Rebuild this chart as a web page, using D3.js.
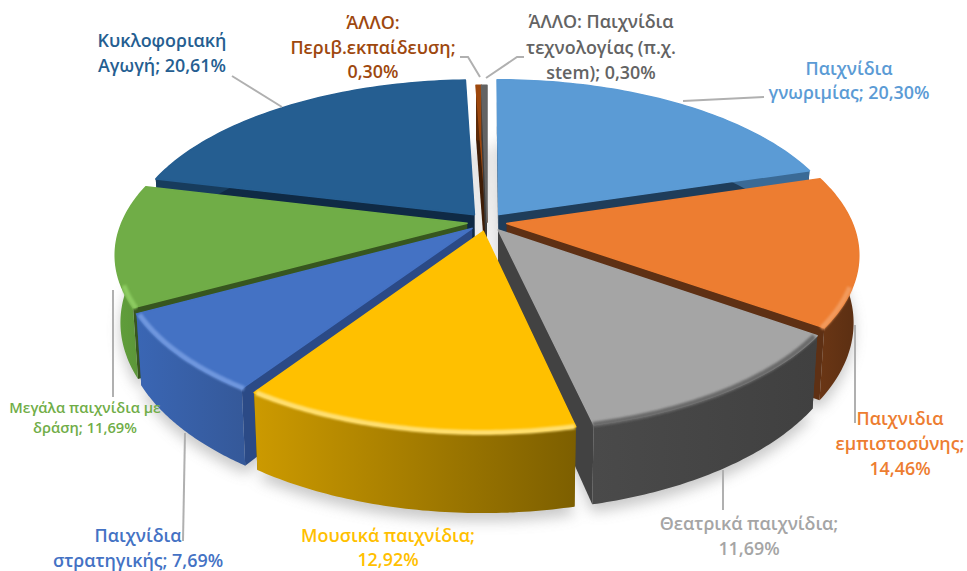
<!DOCTYPE html>
<html>
<head>
<meta charset="utf-8">
<script src="https://cdn.jsdelivr.net/npm/d3@7"></script>
<style>
  html, body { margin: 0; background: #fff; }
  text { font-family: "Open Sans", sans-serif; font-weight: 600; }
</style>
</head>
<body>
<svg width="967" height="571"></svg>
<script>
// Sample data
const categories = ["Παιχνίδια γνωριμίας", "Παιχνιδια εμπιστοσύνης", "Θεατρικά παιχνίδια", "Μουσικά παιχνίδια",
    "Παιχνίδια στρατηγικής", "Μεγάλα παιχνίδια με δράση", "Κυκλοφοριακή Αγωγή", "ΆΛΛΟ: Περιβ.εκπαίδευση", "ΆΛΛΟ: Παιχνίδια τεχνολογίας (π.χ. stem)"];
const values = [20.30, 14.46, 11.69, 12.92, 7.69, 11.69, 20.61, 0.30, 0.30];
const labelLines = [
    ["Παιχνίδια", "γνωριμίας; 20,30%"],
    ["Παιχνιδια", "εμπιστοσύνης;", "14,46%"],
    ["Θεατρικά παιχνίδια;", "11,69%"],
    ["Μουσικά παιχνίδια;", "12,92%"],
    ["Παιχνίδια", "στρατηγικής; 7,69%"],
    ["Μεγάλα παιχνίδια με", "δράση; 11,69%"],
    ["Κυκλοφοριακή", "Αγωγή; 20,61%"],
    ["ΆΛΛΟ:", "Περιβ.εκπαίδευση;", "0,30%"],
    ["ΆΛΛΟ: Παιχνίδια", "τεχνολογίας (π.χ.", "stem); 0,30%"]
];

// Colours per slice
const topColors = ["#5b9bd5", "#ed7d31", "#a5a5a5", "#ffc000", "#4472c4", "#70ad47", "#255e91", "#9e480e", "#636363"];
const cutColors = ["#1f3d5a", "#5e3014", "#424242", "#7a5c00", "#2b4a86", "#37561f", "#0f2a45", "#3f1d06", "#3c3c3c"];
const wallLeft = ["#3a6a96", "#6a3615", "#4a4a4a", "#cc9a00", "#3a66b4", "#619f3c", "#173c5d", "#5f2b08", "#3c3c3c"];
const wallRight = ["#3a6a96", "#5a2e12", "#404040", "#7d5f00", "#35599a", "#5a9438", "#173c5d", "#5f2b08", "#3c3c3c"];
const bevelColors = ["#7cb0e0", "#f39a5c", "#6a6a6a", "#ffdf70", "#6f97de", "#8ccb60", "#3a78ad", "#9e480e", "#636363"];

// Label placement: centre x, first baseline, line height, font size
const labelPos = [
    [849, 75, 24, 17.9], [900, 425, 25, 17.9], [749, 530, 25, 17.9], [388, 542, 24, 17.9], [138, 542, 25, 17.9],
    [85, 413, 20, 14.7], [162, 47, 25, 17.9], [373, 29, 24.5, 17.9], [601, 28, 25.5, 17.9]
];
const leaders = [
    [[683, 101], [764, 97]], [[855, 325], [855, 423]], [[723, 470], [723, 510]], null, [[185, 433], [183, 541]],
    [[113, 290], [113, 397]], [[232, 76], [282, 107]], [[460, 57], [468, 57], [480, 77]], [[524, 57], [517, 57], [486, 78]]
];

const svg = d3.select("svg");
const defs = svg.append("defs");
defs.append("filter").attr("id", "soft").attr("x", "-20%").attr("y", "-20%").attr("width", "140%").attr("height", "140%")
    .append("feGaussianBlur").attr("stdDeviation", 7);
defs.append("filter").attr("id", "rim").attr("x", "-10%").attr("y", "-10%").attr("width", "120%").attr("height", "120%")
    .append("feGaussianBlur").attr("stdDeviation", 1.3);

// Pie geometry and the perspective projection of the disc
const cx = 487, cy = 222, R = 345, tilt = 161.5, persp = 0.18, depth = 65, explode = 0.058, converge = 0.014;

function project(x, y, z) {
    const s = 1 / (1 - persp * y);
    return [cx + x * R * s * (1 - converge * z), cy + (tilt * y + depth * z) * s];
}

const pie = d3.pie().sort(null).value(d => d);
const slices = pie(values).map((d, i) => {
    const mid = (d.startAngle + d.endAngle) / 2;
    return {
        i,
        a0: d.startAngle,
        a1: d.endAngle,
        ox: i >= 7 ? 0 : Math.sin(mid) * explode,
        oy: i >= 7 ? 0 : -Math.cos(mid) * explode
    };
});

const line = d3.line();
const arcAngles = s => d3.range(0, 61).map(j => s.a0 + (s.a1 - s.a0) * j / 60);
const rimPoint = (s, a, z, r = 1) => project(s.ox + Math.sin(a) * r, s.oy - Math.cos(a) * r, z);
const apex = (s, z) => project(s.ox, s.oy, z);

const topPath = s => line([apex(s, 0), ...arcAngles(s).map(a => rimPoint(s, a, 0))]) + "Z";
const outerPath = s => line([...arcAngles(s).map(a => rimPoint(s, a, 0)), ...arcAngles(s).reverse().map(a => rimPoint(s, a, 1))]) + "Z";
const cutPath = (s, a) => line([apex(s, 0), rimPoint(s, a, 0), rimPoint(s, a, 1), apex(s, 1)]) + "Z";
const bottomPath = s => line([apex(s, 1), ...arcAngles(s).map(a => rimPoint(s, a, 1))]) + "Z";
// Only the part of the rim that faces the viewer catches the bevel
const frontAngles = s => arcAngles(s).filter(a => Math.cos(a) < -0.35);

// Wall gradients
slices.forEach(s => {
    const xs = arcAngles(s).map(a => rimPoint(s, a, 0)[0]);
    const g = defs.append("linearGradient").attr("id", "wall" + s.i)
        .attr("gradientUnits", "userSpaceOnUse")
        .attr("x1", d3.min(xs)).attr("x2", d3.max(xs)).attr("y1", 0).attr("y2", 0);
    g.append("stop").attr("offset", 0).attr("stop-color", wallLeft[s.i]);
    g.append("stop").attr("offset", 1).attr("stop-color", wallRight[s.i]);
});

// Soft shadow under the pie
svg.append("g").attr("filter", "url(#soft)").attr("opacity", 0.4)
    .attr("transform", "translate(0,8)")
    .selectAll("path").data(slices).enter().append("path")
    .attr("d", bottomPath).attr("fill", "#777");

// Painter's order, back slices first
const order = [0, 6, 7, 8, 5, 1, 4, 2, 3];
const sliceG = svg.selectAll("g.slice").data(order.map(i => slices[i])).enter().append("g").attr("class", "slice");

sliceG.append("path").attr("d", s => cutPath(s, s.a0)).attr("fill", s => cutColors[s.i]);
sliceG.append("path").attr("d", s => cutPath(s, s.a1)).attr("fill", s => cutColors[s.i]);
sliceG.append("path").attr("d", outerPath).attr("fill", s => `url(#wall${s.i})`);
sliceG.append("path").attr("d", topPath).attr("fill", s => topColors[s.i])
    .attr("stroke", s => topColors[s.i]).attr("stroke-width", 1.5).attr("stroke-linejoin", "round");
// Bevel along the outer edge
sliceG.filter(s => frontAngles(s).length > 1).append("path")
    .attr("d", s => line(frontAngles(s).map(a => rimPoint(s, a, 0.02, 0.992))))
    .attr("fill", "none")
    .attr("stroke", s => bevelColors[s.i])
    .attr("stroke-width", 5)
    .attr("filter", "url(#rim)");

// Leader lines
svg.append("g").selectAll("path").data(leaders.filter(d => d)).enter().append("path")
    .attr("d", d => line(d))
    .attr("fill", "none").attr("stroke", "#b0b0b0").attr("stroke-width", 2);

// Labels
const label = svg.append("g").selectAll("text").data(labelLines).enter().append("text")
    .attr("text-anchor", "middle")
    .attr("fill", (d, i) => topColors[i])
    .attr("font-size", (d, i) => labelPos[i][3]);
label.selectAll("tspan").data((d, i) => d.map((t, j) => ({ t, j, p: labelPos[i] }))).enter().append("tspan")
    .attr("x", d => d.p[0])
    .attr("y", d => d.p[1] + d.j * d.p[2])
    .text(d => d.t);
</script>
</body>
</html>
